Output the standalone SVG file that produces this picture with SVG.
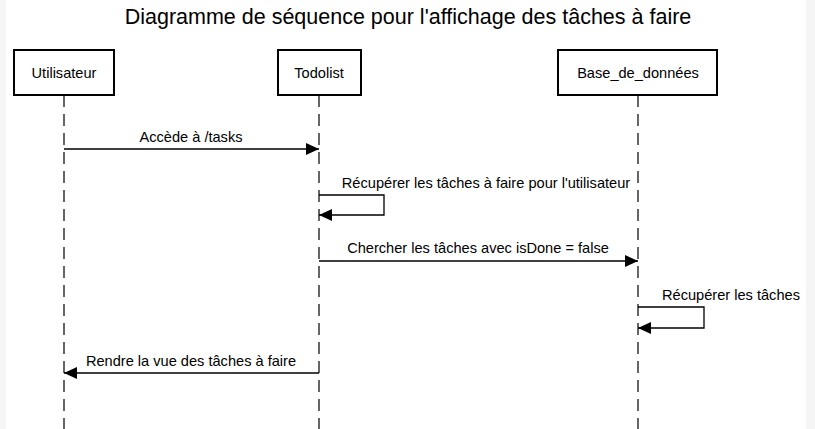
<svg xmlns="http://www.w3.org/2000/svg" width="815" height="429" viewBox="0 0 815 429">
<style>
text{font-family:"Liberation Sans",Arial,sans-serif;fill:#000}
.title{font-size:21.5px;text-anchor:middle}
.lbl{font-size:14.6px;text-anchor:middle}
.box{fill:#fff;stroke:#000;stroke-width:2}
.life{stroke:#000;stroke-width:1.2;stroke-dasharray:12,7;fill:none}
.msg{stroke:#000;stroke-width:1.3;fill:none}
</style>
<defs>
<marker id="ah" viewBox="0 0 13 12" refX="13" refY="6" markerWidth="13" markerHeight="12" markerUnits="userSpaceOnUse" orient="auto">
<path d="M0,0 L13,6 L0,12 Z" fill="#000"/>
</marker>
</defs>
<rect x="0" y="0" width="815" height="429" fill="#f5f5f5"/>
<rect x="6" y="0" width="800" height="429" fill="#fff"/>
<text class="title" x="408" y="24">Diagramme de séquence pour l'affichage des tâches à faire</text>
<g id="utilisateur">
<line class="life" x1="64" y1="95" x2="64" y2="429"/>
<rect class="box" x="14" y="50" width="100" height="45"/>
<text class="lbl" x="64" y="78">Utilisateur</text>
</g>
<g id="todolist">
<line class="life" x1="319" y1="95" x2="319" y2="429"/>
<rect class="box" x="278" y="50" width="83" height="45"/>
<text class="lbl" x="319" y="78">Todolist</text>
</g>
<g id="base_de_donnees">
<line class="life" x1="638" y1="95" x2="638" y2="429"/>
<rect class="box" x="558" y="50" width="159" height="45"/>
<text class="lbl" x="638" y="78">Base_de_données</text>
</g>
<g id="connectors">
<line class="msg" x1="64" y1="149" x2="319" y2="149" marker-end="url(#ah)"/>
<text class="lbl" x="191" y="142">Accède à /tasks</text>
<polyline class="msg" points="319,195 384,195 384,215 319,215" marker-end="url(#ah)"/>
<text class="lbl" x="486" y="188">Récupérer les tâches à faire pour l'utilisateur</text>
<line class="msg" x1="319" y1="261" x2="638" y2="261" marker-end="url(#ah)"/>
<text class="lbl" x="478" y="253">Chercher les tâches avec isDone = false</text>
<polyline class="msg" points="638,307 704,307 704,328 638,328" marker-end="url(#ah)"/>
<text class="lbl" x="731" y="300">Récupérer les tâches</text>
<line class="msg" x1="319" y1="373" x2="64" y2="373" marker-end="url(#ah)"/>
<text class="lbl" x="191" y="366">Rendre la vue des tâches à faire</text>
</g>
</svg>
